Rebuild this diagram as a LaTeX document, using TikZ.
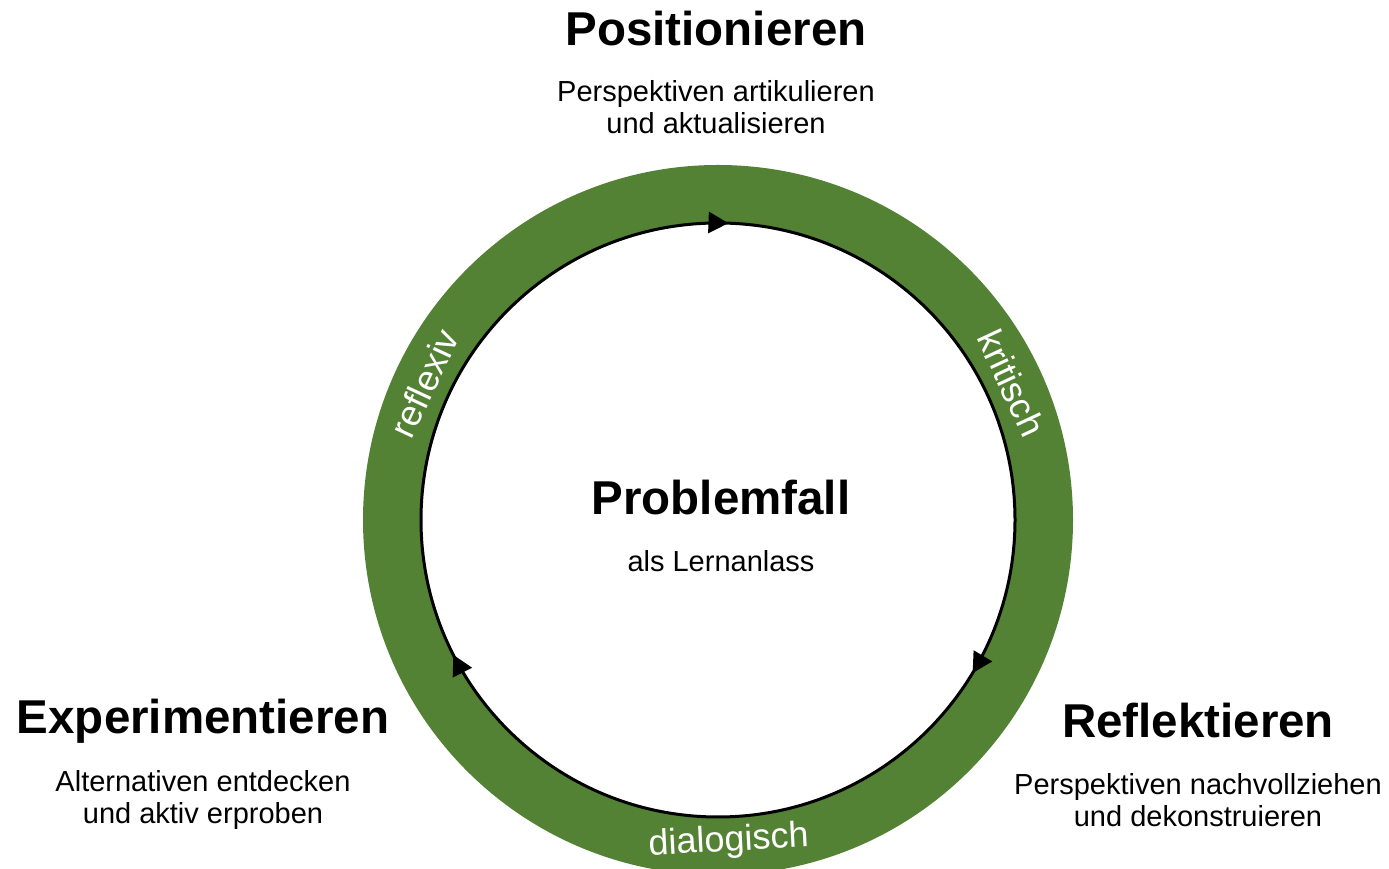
\documentclass[tikz,border=0pt]{standalone}
\usepackage{fontspec}
\setmainfont{Liberation Sans}
\usetikzlibrary{arrows.meta, decorations.markings}
\definecolor{ringgreen}{RGB}{84,130,53}

\begin{document}
\begin{tikzpicture}[x=1pt, y=1pt,
  title/.style = {font=\fontsize{47.5}{52}\selectfont\bfseries},
  sub/.style = {font=\fontsize{29}{32}\selectfont, align=center},
  ringlabel/.style = {text=white, font=\fontsize{36}{40}\selectfont},
  flow/.style = {line width=3, postaction={decorate}, decoration={markings,
      mark=at position 0.2444 with {\arrowreversed{Triangle[length=20,width=21]}},
      mark=at position 0.575 with {\arrowreversed{Triangle[length=20,width=21]}},
      mark=at position 0.9139 with {\arrowreversed{Triangle[length=20,width=21]}}}}]
\useasboundingbox (0,0) rectangle (1389,869);
\coordinate (c) at (718,349);
% ring
\fill[ringgreen] (c) circle (355);
\fill[white] (c) circle (297);
\draw[flow] (c) circle (297);
\node[ringlabel, rotate=65] (refl) at ([shift={(155:324)}]c) {reflexiv};
\node[ringlabel, rotate=-65] (krit) at ([shift={(25:324)}]c) {kritisch};
\node[ringlabel, rotate=3] (dial) at ([shift={(-88:322)}]c) {dialogisch};
% centre
\node[title] (prob) at (721,371) {Problemfall};
\node[sub] (anlass) at (721,308) {als Lernanlass};
% phases
\node[title] (pos) at (716,840) {Positionieren};
\node[sub] (posdesc) at (716,762) {Perspektiven artikulieren\\und aktualisieren};
\node[title] (exp) at (203,148) {Experimentieren};
\node[sub] (expdesc) at (203,69) {Alternativen entdecken\\und aktiv erproben};
\node[title] (ref) at (1198,148) {Reflektieren};
\node[sub] (refdesc) at (1198,69) {Perspektiven nachvollziehen\\und dekonstruieren};
\end{tikzpicture}
\end{document}
